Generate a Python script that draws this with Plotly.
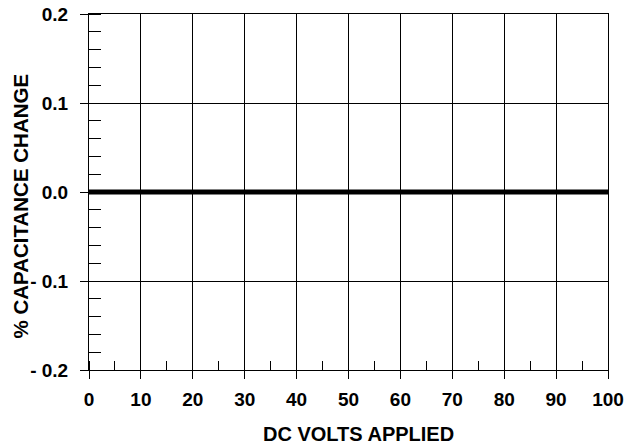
import plotly.graph_objects as go

# Data
volts = [0, 100]
cap_change = [0.0, 0.0]

x_ticks = [0, 10, 20, 30, 40, 50, 60, 70, 80, 90, 100]
y_tickvals = [-0.2, -0.1, 0.0, 0.1, 0.2]
y_ticktext = ["- 0.2", "- 0.1", "0.0", "0.1", "0.2"]

FONT = "Liberation Sans, Arial, Helvetica, sans-serif"

fig = go.Figure()
fig.add_trace(go.Scatter(x=volts, y=cap_change, mode="lines",
                         line=dict(color="black", width=5), showlegend=False,
                         hoverinfo="skip"))

fig.update_layout(
    width=640, height=448,
    margin=dict(l=89, r=32, t=14, b=78, autoexpand=False),
    paper_bgcolor="white", plot_bgcolor="white",
    font=dict(family=FONT, color="black", size=19, weight="bold"),
    annotations=[
        dict(text="DC VOLTS APPLIED", xref="paper", yref="paper",
             x=(358.5 - 89) / 519, y=-(434 - 370) / 356,
             xanchor="center", yanchor="middle", showarrow=False,
             font=dict(family=FONT, size=20, weight="bold", color="black")),
        dict(text="% CAPACITANCE CHANGE", xref="paper", yref="paper",
             x=-(89 - 20) / 519, y=(370 - 206.5) / 356, textangle=-90,
             xanchor="center", yanchor="middle", showarrow=False,
             font=dict(family=FONT, size=20.5, weight="bold", color="black")),
    ],
)

fig.update_xaxes(
    range=[0, 100], tickvals=x_ticks, ticktext=[str(v) for v in x_ticks],
    showgrid=True, gridcolor="black", gridwidth=1,
    showline=True, linecolor="black", linewidth=1, mirror=True,
    ticks="outside", ticklen=8, tickcolor="black", tickwidth=1,
    ticklabelstandoff=4, automargin=False, ticklabeloverflow="allow",
    tickfont=dict(family=FONT, size=19, weight="bold"),
    minor=dict(ticks="inside", dtick=5, tick0=0, ticklen=9, tickcolor="black",
               tickwidth=1, showgrid=False),
    zeroline=False,
)

fig.update_yaxes(
    range=[-0.2, 0.2], tickvals=y_tickvals, ticktext=y_ticktext,
    showgrid=True, gridcolor="black", gridwidth=1,
    showline=True, linecolor="black", linewidth=1, mirror=True,
    ticks="outside", ticklen=8, tickcolor="black", tickwidth=1,
    ticklabelstandoff=8, automargin=False, ticklabeloverflow="allow",
    tickfont=dict(family=FONT, size=19, weight="bold"),
    minor=dict(ticks="inside", dtick=0.02, tick0=0, ticklen=12, tickcolor="black",
               tickwidth=1, showgrid=False),
    zeroline=False,
)

# remove the default 8px body margin so the 640x448 figure fills the window
fig.write_html("out.html", config={"displayModeBar": False},
               post_script="document.body.style.margin='0';document.body.style.overflow='hidden';")
